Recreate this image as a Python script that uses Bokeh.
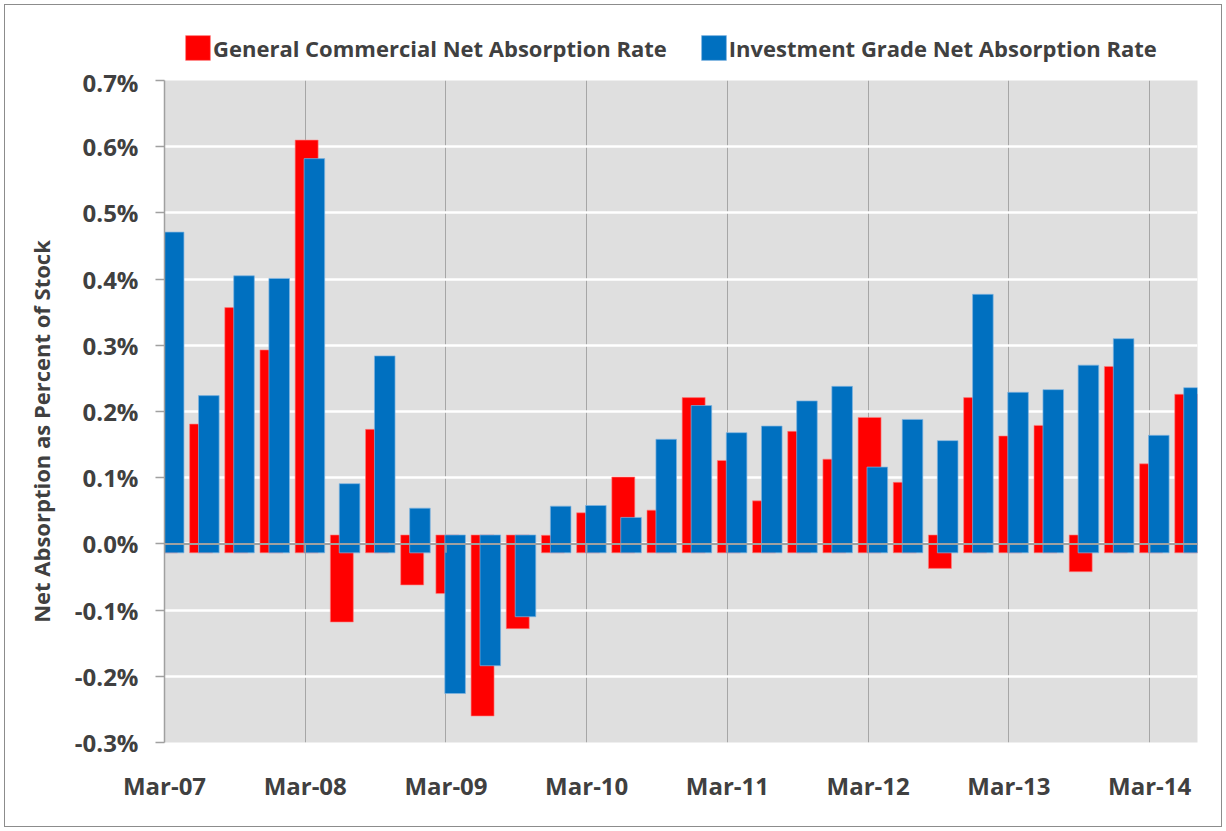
from bokeh.plotting import figure
from bokeh.layouts import column
from bokeh.models import Range1d, FixedTicker, PrintfTickFormatter, Legend, LegendItem, Span, ColumnDataSource
from bokeh.transform import dodge
from bokeh.embed import file_html
from bokeh.resources import INLINE

quarters = ["Mar-07", "Jun-07", "Sep-07", "Dec-07", "Mar-08", "Jun-08", "Sep-08", "Dec-08",
            "Mar-09", "Jun-09", "Sep-09", "Dec-09", "Mar-10", "Jun-10", "Sep-10", "Dec-10",
            "Mar-11", "Jun-11", "Sep-11", "Dec-11", "Mar-12", "Jun-12", "Sep-12", "Dec-12",
            "Mar-13", "Jun-13", "Sep-13", "Dec-13", "Mar-14", "Jun-14"]
general = [0.300, 0.181, 0.357, 0.293, 0.610, -0.118, 0.173, -0.062, -0.075, -0.260,
           -0.128, 0.013, 0.047, 0.101, 0.051, 0.221, 0.126, 0.065, 0.170, 0.128,
           0.191, 0.093, -0.037, 0.221, 0.163, 0.179, -0.042, 0.268, 0.121, 0.226]
invest = [0.471, 0.224, 0.405, 0.401, 0.582, 0.091, 0.284, 0.054, -0.226, -0.184,
          -0.110, 0.057, 0.058, 0.040, 0.158, 0.209, 0.168, 0.178, 0.216, 0.238,
          0.116, 0.188, 0.156, 0.377, 0.229, 0.233, 0.270, 0.310, 0.164, 0.236]
series_names = ["General Commercial Net Absorption Rate", "Investment Grade Net Absorption Rate"]
tick_labels = ["Mar-07", "Mar-08", "Mar-09", "Mar-10", "Mar-11", "Mar-12", "Mar-13", "Mar-14"]
y_ticks = [-0.3, -0.2, -0.1, 0.0, 0.1, 0.2, 0.3, 0.4, 0.5, 0.6, 0.7]
y_title = "Net Absorption as Percent of Stock"

FONT = "Open Sans"
TXT = "#404040"
RED, BLUE = "#ff0000", "#0070c0"
RED_EDGE, BLUE_EDGE = "#ff8080", "#7fb3e0"
OVER = 0.0135  # bars in the original overlap the zero line slightly

pos = list(range(len(quarters)))
tick_pos = [quarters.index(t) for t in tick_labels]

src = ColumnDataSource(dict(
    x=pos,
    general=general,
    invest=invest,
    gbot=[-OVER if v >= 0 else OVER for v in general],
    ibot=[-OVER if v >= 0 else OVER for v in invest],
))

# ---- legend strip (top); its frame is aligned with the main chart's frame ----
lg = figure(width=1216, height=60, output_backend="svg", toolbar_location=None,
            x_range=Range1d(0, 1), y_range=Range1d(0, 1),
            x_axis_location=None, y_axis_location=None,
            min_border_left=0, min_border_right=0, min_border_top=0, min_border_bottom=0)
lg.outline_line_color = None
lg.grid.visible = False
lg.background_fill_color = "white"
lg.border_fill_color = "white"
# legend swatches only: one key glyph per series, placed far outside the view
key = ColumnDataSource(dict(x=[-10], top=[-9], bottom=[-10]))
d1 = lg.vbar(x="x", top="top", bottom="bottom", width=1, source=key, fill_color=RED,
             line_color=RED_EDGE, line_alpha=0.6)
d2 = lg.vbar(x="x", top="top", bottom="bottom", width=1, source=key, fill_color=BLUE,
             line_color=BLUE_EDGE, line_alpha=0.7)
legend = Legend(items=[
    LegendItem(label=series_names[0], renderers=[d1]),
    LegendItem(label=series_names[1], renderers=[d2]),
], orientation="horizontal", location=(18, 2),
    glyph_width=31, glyph_height=31, label_standoff=0, spacing=31,
    padding=0, margin=0, border_line_color=None, background_fill_alpha=0,
    label_text_font=FONT, label_text_font_style="bold", label_text_font_size="22px",
    label_text_color=TXT)
lg.add_layout(legend)

# ---- main chart ----
p = figure(width=1216, height=761,
           x_range=Range1d(0, 29.36), y_range=Range1d(-0.3, 0.7),
           output_backend="svg", toolbar_location=None,
           min_border_left=159, min_border_right=24, min_border_top=15, min_border_bottom=84)
p.background_fill_color = "#dfdfdf"
p.border_fill_color = "white"
p.outline_line_color = None

p.vbar(x=dodge("x", 0.04), width=0.653, top="general", bottom="gbot", source=src,
       fill_color=RED, line_color=RED_EDGE, line_alpha=0.6, line_width=1)
p.vbar(x=dodge("x", 0.26), width=0.585, top="invest", bottom="ibot", source=src,
       fill_color=BLUE, line_color=BLUE_EDGE, line_alpha=0.7, line_width=1)

p.add_layout(Span(location=0, dimension="width", line_color="#a0a0a0", line_width=2))
p.segment(x0=tick_pos, y0=[0] * len(tick_pos), x1=tick_pos, y1=[-OVER] * len(tick_pos),
          line_color="#a0a0a0", line_width=1.5)

# grids
p.xgrid.ticker = FixedTicker(ticks=tick_pos)
p.xgrid.grid_line_color = "#a6a6a6"
p.xgrid.grid_line_width = 1
p.ygrid.ticker = FixedTicker(ticks=y_ticks)
p.ygrid.grid_line_color = "white"
p.ygrid.grid_line_width = 2.5

# x axis
xa = p.xaxis[0]
xa.ticker = FixedTicker(ticks=tick_pos)
xa.major_label_overrides = {t: lab for t, lab in zip(tick_pos, tick_labels)}
xa.axis_line_color = None
xa.major_tick_line_color = None
xa.minor_tick_line_color = None
xa.major_label_standoff = 20
xa.major_label_text_font = FONT
xa.major_label_text_font_style = "bold"
xa.major_label_text_font_size = "24px"
xa.major_label_text_color = TXT

# y axis
ya = p.yaxis[0]
ya.ticker = FixedTicker(ticks=y_ticks)
ya.formatter = PrintfTickFormatter(format="%.1f%%")
ya.axis_line_color = "#a0a0a0"
ya.axis_line_width = 1.5
ya.major_tick_line_color = "#a0a0a0"
ya.major_tick_line_width = 1.5
ya.major_tick_out = 9
ya.major_tick_in = 0
ya.minor_tick_line_color = None
ya.major_label_standoff = 17
ya.major_label_text_font = FONT
ya.major_label_text_font_style = "bold"
ya.major_label_text_font_size = "24px"
ya.major_label_text_color = TXT
# trailing no-break spaces nudge the rotated title down, as in the original
ya.axis_label = y_title + "\u00a0" * 7
ya.axis_label_text_font = FONT
ya.axis_label_text_font_style = "bold"
ya.axis_label_text_font_size = "22px"
ya.axis_label_text_color = TXT
ya.axis_label_standoff = 16

layout = column(lg, p, spacing=0)
layout.styles = {"border": "1px solid #8c8c8c", "margin": "4px"}

open("out.html", "w").write(file_html(layout, INLINE))
